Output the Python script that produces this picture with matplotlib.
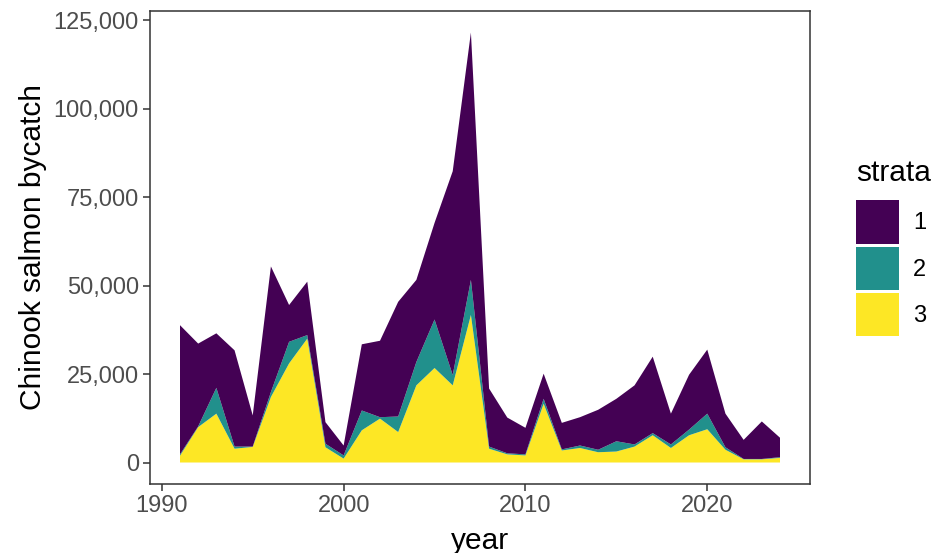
import numpy as np
import matplotlib.pyplot as plt
from matplotlib.patches import Patch
from matplotlib.ticker import FuncFormatter

plt.rcParams['font.family'] = ['Liberation Sans', 'DejaVu Sans']

years = list(range(1991, 2025))

# cumulative tops (thousands)
top_all = [38.8, 33.6, 36.5, 31.7, 13.3, 55.4, 44.5, 51.1, 11.4, 4.8,
           33.4, 34.4, 45.4, 51.6, 67.7, 82.3, 121.5, 20.9, 12.7, 9.8,
           25.1, 11.2, 12.8, 14.9, 18.0, 21.8, 29.9, 13.8, 24.8, 31.9,
           13.8, 6.4, 11.6, 7.0]
top_23 = [2.3, 10.2, 21.1, 4.5, 4.5, 19.9, 34.1, 36.0, 5.3, 2.0,
          14.7, 12.8, 13.0, 28.4, 40.4, 24.7, 51.6, 4.5, 2.6, 2.3,
          18.0, 3.7, 4.8, 3.6, 6.0, 5.1, 8.3, 5.1, 9.3, 13.8,
          4.3, 1.0, 1.0, 1.5]
strata3 = [1.9, 10.0, 13.8, 3.9, 4.4, 18.5, 28.0, 35.0, 4.3, 1.1,
           9.1, 12.4, 8.6, 21.8, 26.7, 21.8, 41.7, 3.9, 2.3, 2.0,
           16.6, 3.4, 4.1, 2.9, 3.1, 4.5, 7.7, 4.1, 7.7, 9.4,
           3.6, 0.9, 0.9, 1.3]

s3 = np.array(strata3) * 1000
s2 = (np.array(top_23) - np.array(strata3)) * 1000
s1 = (np.array(top_all) - np.array(top_23)) * 1000

colors = ['#440154', '#21908C', '#FDE725']
labels = ['1', '2', '3']

fig = plt.figure(figsize=(9.31, 5.53), dpi=100)
ax = fig.add_axes([150 / 931, 1 - 484 / 553, (810 - 150) / 931, (484 - 11) / 553])

ax.stackplot(years, s3, s2, s1, colors=colors[::-1], linewidth=0)

ax.set_xlim(1989.35, 2025.65)
ymax = max(top_all) * 1000
ax.set_ylim(-0.05 * ymax, 1.05 * ymax)
ax.set_xticks([1990, 2000, 2010, 2020])
ax.set_yticks([0, 25000, 50000, 75000, 100000, 125000])
ax.yaxis.set_major_formatter(FuncFormatter(lambda v, p: f'{int(v):,}'))

for s in ax.spines.values():
    s.set_color('#333333')
    s.set_linewidth(1.1)
ax.tick_params(colors='#333333', labelcolor='#4D4D4D', labelsize=17, length=5,
               width=1.1, pad=3)

ax.set_xlabel('year', fontsize=21.5, labelpad=7)
ax.set_ylabel('Chinook salmon bycatch', fontsize=21.5, labelpad=5)

handles = [Patch(facecolor=c, edgecolor='none') for c in colors]
leg = ax.legend(handles, labels, title='strata', loc='upper left',
                bbox_to_anchor=(1.07, 0.688), frameon=False, fontsize=17,
                title_fontsize=21.5, handlelength=1.8, handleheight=2.45,
                labelspacing=0.12, handletextpad=0.6, alignment='left',
                borderaxespad=0, borderpad=0)
leg._legend_box.sep = 10

fig.savefig('out.png', dpi=100)
